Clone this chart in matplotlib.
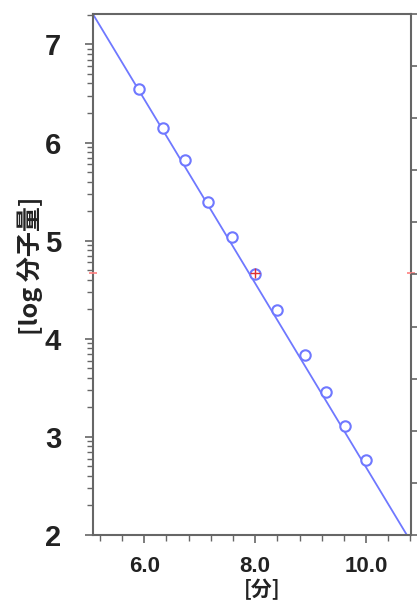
import numpy as np
import matplotlib
matplotlib.use("Agg")
import matplotlib.pyplot as plt
from matplotlib import font_manager
from matplotlib.ticker import FixedLocator, FixedFormatter, MultipleLocator, LogLocator, NullFormatter
import matplotlib.transforms as mtransforms

# calibration points (retention time [min], log molecular weight)
time_min = [5.915, 6.339, 6.742, 7.145, 7.575, 8.006, 8.389, 8.890, 9.281, 9.614, 9.995]
log_mw = [6.541, 6.149, 5.819, 5.394, 5.038, 4.663, 4.296, 3.837, 3.455, 3.115, 2.765]

# fitted calibration line, end points
line_x = [5.00, 10.81]
line_logmw = [7.38, 1.93]

# cursor (red marks)
cursor_x = 8.0
cursor_logmw = 4.67

y_decades = [2, 3, 4, 5, 6, 7]
x_major = [6.0, 8.0, 10.0]
x_labels = ["6.0", "8.0", "10.0"]

names = {f.name for f in font_manager.fontManager.ttflist}
num_font = "Liberation Sans Narrow" if "Liberation Sans Narrow" in names else "Liberation Sans"
jp_font = ["Noto Sans CJK JP", "DejaVu Sans"]

blue = "#6f78ff"
spine_col = "#666666"

fig = plt.figure(figsize=(4.17, 6.03), dpi=100)
ax = fig.add_axes([93 / 417, 1 - 535 / 603, (411 - 93) / 417, (535 - 14) / 603])

ax.plot(line_x, 10 ** np.array(line_logmw), color=blue, lw=1.3, zorder=2)
ax.plot(time_min, 10 ** np.array(log_mw), "o", ms=7.5, mfc="white", mec=blue, mew=1.5, zorder=3)

# red cursor marks
ax.plot([cursor_x], [10 ** cursor_logmw], marker="+", color="#e03030", ms=7, mew=1, zorder=4)
tr = mtransforms.blended_transform_factory(ax.transAxes, ax.transData)
ax.plot([0.0, 1.0], [10 ** cursor_logmw] * 2, ls="none", marker="_", ms=6, mew=1.2,
        color="#ff8080", transform=tr, clip_on=False, zorder=5)

ax.set_yscale("log")
ax.set_ylim(10 ** 2.0, 10 ** 7.31)
ax.set_xlim(5.077, 10.81)

ax.yaxis.set_major_locator(FixedLocator([10.0 ** k for k in y_decades]))
ax.yaxis.set_major_formatter(FixedFormatter([str(k) for k in y_decades]))
ax.yaxis.set_minor_locator(LogLocator(base=10, subs=np.arange(2, 10)))
ax.yaxis.set_minor_formatter(NullFormatter())

ax.xaxis.set_major_locator(FixedLocator(x_major))
ax.xaxis.set_major_formatter(FixedFormatter(x_labels))
ax.xaxis.set_minor_locator(MultipleLocator(0.4))

for s in ax.spines.values():
    s.set_color(spine_col)
    s.set_linewidth(1.5)

ax.tick_params(axis="y", which="major", direction="out", length=6, width=1.2, color=spine_col, pad=17)
ax.tick_params(axis="y", which="minor", direction="out", length=4, width=1.0, color=spine_col)
ax.tick_params(axis="x", which="major", direction="out", length=6, width=1.2, color=spine_col, pad=9)
ax.tick_params(axis="x", which="minor", direction="out", length=4, width=1.0, color=spine_col)

for lab in ax.get_yticklabels():
    lab.set_fontfamily(num_font)
    lab.set_fontweight("bold")
    lab.set_fontsize(21)
    lab.set_color("#222222")
for lab in ax.get_xticklabels():
    lab.set_fontfamily(num_font)
    lab.set_fontweight("bold")
    lab.set_fontsize(16)
    lab.set_color("#222222")

# right-hand axis (ticks only, labels off the picture)
ax2 = ax.twinx()
ax2.set_ylim(0, 10)
ax2.set_yticks(np.arange(0, 11))
ax2.set_yticklabels([])
ax2.tick_params(axis="y", direction="out", length=5, width=1.2, color=spine_col)
for s in ax2.spines.values():
    s.set_visible(False)

fig.text(30 / 417, 1 - 266 / 603, "[log 分子量]", rotation=90, ha="center", va="center",
         fontsize=18, fontweight="bold", family=jp_font, color="#222222")
fig.text(262 / 417, 1 - 590 / 603, "[分]", ha="center", va="center",
         fontsize=15, fontweight="bold", family=jp_font, color="#222222")

fig.savefig("out.png", dpi=100)
